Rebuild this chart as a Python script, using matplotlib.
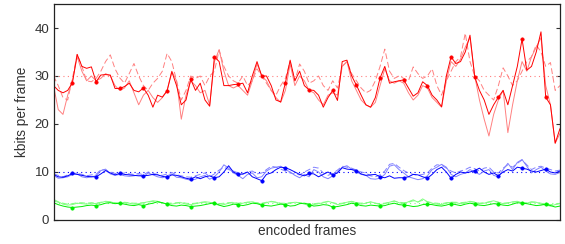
import matplotlib
matplotlib.use("Agg")
import matplotlib.pyplot as plt
import numpy as np

plt.rcParams['font.family'] = ['Liberation Sans', 'DejaVu Sans']

# frames
frames = list(range(108))
marker_every = 5
marker_start = 4

# targets (dotted)
red_target = 30
blue_target = 10
green_target = 3.5

red_actual = [28, 27, 26.5, 27, 28.6, 34.5, 32, 31.6, 31.9, 28.8,
              30.2, 30.3, 30.2, 27.4, 27.4, 27.8, 28.5, 27, 26.7, 27.5,
              26, 23.5, 26, 25.6, 26.9, 30.9, 28, 24, 25, 29.3,
              27, 28.5, 25, 23.7, 34, 33, 28, 28, 28.2, 28.3,
              28.5, 26.5, 30, 33, 30, 30, 28, 25, 24.6, 28.6,
              33.3, 29, 31, 28, 27.1, 27, 26, 23.5, 25.5, 27,
              24.9, 33, 33.3, 30, 28.1, 26, 24, 23.5, 25.5, 29.6,
              32, 28.5, 28.8, 29, 29.2, 27.5, 25.8, 26.5, 28.8, 28,
              26, 25, 23.6, 30, 34, 32.6, 33, 35, 38.5, 29.8,
              27, 25, 22, 24, 25.6, 27, 24, 28, 32, 37.7,
              31.2, 32, 35, 39.2, 25.6, 24, 16, 19]
red_light = [28, 23, 22, 26, 29, 34, 31, 29, 30, 29,
             29.5, 30.5, 30, 28, 27, 27.5, 29, 26.5, 24, 26,
             27, 25.5, 24.5, 25.5, 27, 31, 29, 21, 26, 29,
             28, 26.5, 27, 24, 33, 35.5, 31, 28, 27.5, 28,
             27, 26, 29, 32.5, 30, 29, 27, 25.5, 24.5, 27,
             32.5, 28, 30, 29, 27, 26.5, 25, 24, 26, 26.5,
             26, 32, 33, 29, 27, 25, 24, 23.5, 24.5, 28,
             31.5, 29, 28.5, 29, 28.5, 26.5, 25, 26, 28, 27.5,
             25.5, 24.5, 23.5, 29, 33, 32, 33.5, 36, 38, 30,
             25, 21, 17.5, 22, 25, 27, 18.2, 24, 29, 33,
             31, 34, 36, 38, 28, 24, 16, 18]
red_dashed = [30, 28, 25.5, 25, 29.5, 34.5, 32, 29, 28.8, 29.5,
              31, 33, 34.4, 31.5, 29.6, 28.5, 30.5, 32.6, 30, 28,
              27, 28.5, 29.5, 31, 34.7, 33, 29, 25, 27, 30,
              29.5, 30, 28, 30, 31, 35.4, 32, 30, 29, 28.5,
              30, 28, 29, 31.5, 30, 28.5, 27, 26, 28, 29.5,
              33, 29, 32.5, 31, 28.5, 29, 30, 28, 27, 29,
              27.5, 32, 33, 30.5, 29, 27.5, 26.5, 27, 29, 32,
              35.6, 31, 29.5, 30, 29.5, 29, 31.9, 30.5, 29.5, 30,
              31.5, 28, 26, 29, 31, 33, 34, 38.9, 33, 30,
              29, 27, 26, 25, 28, 31.7, 30, 28, 29, 31,
              33, 34, 36.5, 35, 32, 32.8, 27, 28]

blue_actual = [9.5, 9.0, 8.9, 9.2, 9.7, 9.5, 9.3, 9.1, 9.0, 9.0,
               9.6, 10.3, 9.8, 9.4, 9.7, 9.5, 9.4, 9.3, 9.2, 9.2,
               9.3, 9.5, 9.4, 9.1, 8.9, 9.4, 9.3, 9.0, 8.7, 8.5,
               9.0, 8.6, 9.0, 9.2, 8.8, 9.0, 10.0, 11.3, 10.0, 9.5,
               9.6, 10.0, 9.0, 8.6, 8.2, 9.5, 9.8, 10.5, 11.0, 10.9,
               10.5, 10.0, 9.5, 9.2, 9.7, 9.6, 9.0, 9.5, 10.0, 9.4,
               9.8, 10.9, 10.6, 10.5, 10.3, 9.6, 9.3, 9.4, 9.5, 9.0,
               8.8, 9.2, 8.7, 8.8, 8.8, 9.0, 9.5, 9.4, 9.0, 8.7,
               9.5, 10.5, 11.0, 10.0, 8.7, 9.5, 10.0, 9.8, 10.0, 10.3,
               10.8, 10.0, 9.5, 9.8, 9.2, 10.0, 10.5, 10.2, 11.0, 10.8,
               10.6, 10.2, 10.0, 10.3, 10.6, 10.0, 9.8, 10.2]
blue_light = [9.3, 8.7, 8.8, 9.0, 9.5, 9.6, 9.0, 8.8, 9.0, 9.2,
              10.3, 10.6, 9.6, 9.3, 9.5, 9.2, 9.1, 9.2, 9.4, 9.0,
              9.8, 9.4, 9.0, 8.8, 9.2, 9.6, 8.9, 8.8, 8.5, 8.3,
              8.5, 9.0, 9.3, 8.5, 9.0, 10.0, 11.5, 10.8, 9.8, 9.3,
              8.6, 9.5, 9.8, 8.8, 9.0, 10.2, 10.8, 11.0, 11.2, 10.5,
              10.0, 9.3, 8.8, 9.5, 9.0, 10.5, 10.0, 9.0, 8.6, 9.2,
              10.0, 11.0, 11.3, 10.6, 10.0, 9.5, 9.3, 8.6, 8.5, 8.7,
              9.5, 11.2, 11.5, 10.5, 9.8, 9.0, 8.7, 8.4, 8.6, 9.2,
              10.5, 11.0, 11.6, 11.0, 9.5, 9.0, 9.5, 9.8, 10.5, 10.0,
              9.5, 10.2, 10.5, 9.3, 9.0, 10.5, 11.8, 10.5, 12.0, 12.6,
              11.2, 9.8, 10.5, 11.0, 10.2, 9.6, 9.5, 9.9]
blue_dashed = [9.6, 9.3, 9.0, 9.4, 9.8, 9.7, 9.5, 9.2, 9.4, 9.5,
               10.5, 10.4, 10.0, 9.7, 9.6, 9.8, 9.6, 9.5, 9.7, 9.4,
               10.0, 9.7, 9.5, 9.3, 9.6, 9.9, 9.4, 9.2, 9.0, 8.9,
               9.2, 9.5, 9.8, 9.0, 9.6, 10.4, 11.0, 10.5, 10.2, 9.8,
               9.5, 10.0, 10.2, 9.6, 9.8, 10.5, 11.2, 11.0, 10.6, 10.2,
               9.8, 9.6, 9.4, 10.0, 10.5, 11.0, 10.8, 9.8, 9.3, 9.7,
               10.4, 11.2, 11.0, 10.8, 10.4, 10.0, 9.8, 9.2, 9.0, 9.4,
               10.2, 11.6, 11.8, 11.0, 10.3, 9.8, 9.5, 9.3, 9.5, 9.8,
               10.8, 11.5, 11.4, 10.8, 10.2, 9.8, 10.2, 10.5, 11.0, 10.7,
               10.2, 10.8, 11.0, 10.0, 9.8, 10.8, 11.5, 11.0, 11.8, 12.5,
               11.5, 10.5, 11.0, 11.2, 10.8, 10.5, 10.2, 10.4]

green_actual = [3.6, 3.2, 2.9, 2.7, 2.6, 2.7, 2.8, 3.0, 3.1, 3.0,
                3.2, 3.5, 3.6, 3.4, 3.5, 3.3, 3.1, 3.0, 3.2, 3.0,
                3.3, 3.5, 3.8, 3.6, 3.3, 3.0, 2.9, 3.1, 3.0, 2.8,
                2.9, 3.0, 3.2, 3.4, 3.6, 3.1, 2.8, 3.0, 3.3, 3.2,
                3.0, 3.2, 3.5, 3.4, 3.1, 3.0, 2.9, 3.1, 3.3, 3.2,
                2.9, 3.0, 3.4, 3.5, 3.2, 2.9, 3.0, 3.2, 3.1, 2.7,
                2.8, 3.0, 3.2, 3.5, 3.3, 3.0, 2.9, 3.1, 3.0, 2.9,
                3.0, 3.3, 3.5, 3.2, 3.1, 3.0, 2.8, 2.9, 3.2, 3.3,
                3.2, 3.0, 2.9, 3.1, 3.4, 3.2, 3.0, 3.3, 3.5, 3.3,
                3.1, 3.0, 3.2, 3.4, 3.3, 3.1, 3.0, 3.3, 3.6, 3.5,
                3.4, 3.2, 3.0, 3.1, 3.3, 3.0, 2.7, 2.9]
green_light = [4.3, 3.8, 3.3, 3.1, 3.2, 3.5, 3.4, 3.3, 3.5, 3.4,
               3.6, 3.9, 3.8, 3.5, 3.4, 3.6, 3.5, 3.3, 3.4, 3.6,
               3.8, 4.0, 3.9, 3.5, 3.4, 3.3, 3.5, 3.6, 3.3, 3.2,
               3.4, 3.6, 3.8, 3.7, 3.3, 3.1, 3.2, 3.5, 3.6, 3.4,
               3.5, 3.7, 3.8, 3.5, 3.3, 3.6, 3.9, 3.7, 3.4, 3.3,
               3.5, 3.7, 3.6, 3.3, 3.0, 3.2, 3.4, 3.6, 3.9, 3.6,
               3.2, 3.4, 3.7, 3.9, 3.6, 3.3, 3.5, 3.8, 3.5, 3.2,
               3.4, 3.7, 4.0, 3.6, 3.4, 3.8, 4.2, 3.7, 4.4, 3.8,
               3.5, 3.3, 3.2, 3.5, 3.7, 3.6, 3.4, 3.6, 3.9, 3.7,
               3.4, 3.5, 3.8, 4.0, 3.7, 3.4, 3.5, 3.8, 3.9, 3.6,
               3.5, 3.8, 3.7, 3.3, 3.1, 2.9, 3.2, 3.4]
green_dashed = [4.0, 3.7, 3.5, 3.3, 3.4, 3.6, 3.6, 3.5, 3.6, 3.5,
                3.7, 3.8, 3.7, 3.6, 3.5, 3.7, 3.6, 3.5, 3.5, 3.6,
                3.7, 3.9, 3.8, 3.6, 3.5, 3.5, 3.6, 3.7, 3.5, 3.4,
                3.5, 3.7, 3.7, 3.6, 3.5, 3.4, 3.5, 3.6, 3.7, 3.5,
                3.6, 3.7, 3.7, 3.6, 3.5, 3.7, 3.8, 3.7, 3.5, 3.5,
                3.6, 3.7, 3.6, 3.5, 3.4, 3.4, 3.5, 3.7, 3.8, 3.6,
                3.4, 3.5, 3.7, 3.8, 3.6, 3.5, 3.6, 3.7, 3.5, 3.4,
                3.5, 3.7, 3.9, 3.7, 3.6, 3.7, 4.0, 3.8, 4.1, 3.8,
                3.6, 3.5, 3.4, 3.6, 3.7, 3.7, 3.6, 3.7, 3.8, 3.7,
                3.5, 3.6, 3.7, 3.9, 3.7, 3.5, 3.6, 3.7, 3.8, 3.6,
                3.6, 3.7, 3.7, 3.5, 3.3, 3.2, 3.3, 3.5]

yticks = [0, 10, 20, 30, 40]

fig = plt.figure(figsize=(5.65, 2.44), dpi=100)
ax = fig.add_axes([0.0947, 0.0984, 0.8963, 0.8852])

series = [
    ('#ff0000', '#ff8080', red_actual, red_light, red_dashed, red_target),
    ('#0000ff', '#8080ff', blue_actual, blue_light, blue_dashed, blue_target),
    ('#00ee00', '#80ff80', green_actual, green_light, green_dashed, green_target),
]
lw = 0.7
for dark, light, act, lig, das, tgt in series:
    ax.axhline(tgt, color=light if dark != '#0000ff' else dark, lw=0.8,
               linestyle=(0, (1, 3)))
    ax.plot(frames, lig, color=light, lw=lw)
    ax.plot(frames, das, color=light, lw=lw, linestyle=(0, (6, 3)))
    ax.plot(frames, act, color=dark, lw=lw, marker='o', markersize=2.4,
            markeredgewidth=0.5, markevery=(marker_start, marker_every))

ax.set_xlim(0, 107)
ax.set_ylim(0, 45)
ax.set_yticks(yticks)
ax.set_xticks([])
ax.tick_params(axis='y', direction='in', length=3, width=0.8, right=True,
               labelsize=9.5, colors='#333333', labelcolor='#333333', pad=3)
for s in ax.spines.values():
    s.set_color('#222222')
    s.set_linewidth(0.9)
ax.set_ylabel('kbits per frame', fontsize=9.8, color='#333333', labelpad=4)
ax.set_xlabel('encoded frames', fontsize=9.8, color='#333333', labelpad=3)

fig.savefig('out.png', dpi=100)
